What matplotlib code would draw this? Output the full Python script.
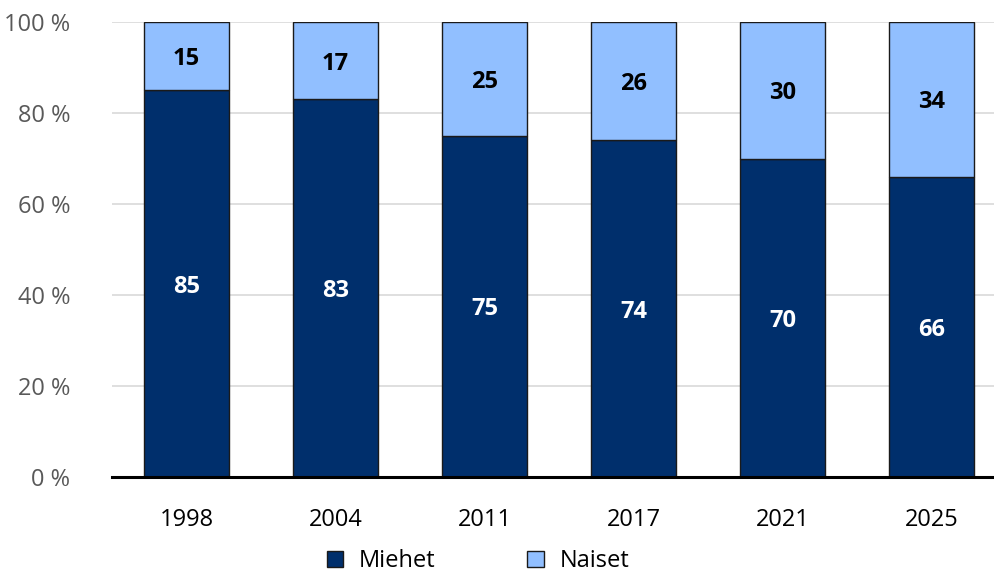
import numpy as np
import matplotlib
matplotlib.use("Agg")
import matplotlib.pyplot as plt

plt.rcParams['font.family'] = ['Open Sans', 'DejaVu Sans']

years = ['1998', '2004', '2011', '2017', '2021', '2025']
miehet = [85, 83, 75, 74, 70, 66]
naiset = [15, 17, 25, 26, 30, 34]

dark = '#002F6C'
light = '#91BFFF'

fig = plt.figure(figsize=(9.95, 5.76), dpi=100)
ax = fig.add_axes([112/995, 99/576, 894/995, 455/576])

x = np.arange(len(years))
w = 0.57
ax.bar(x, miehet, w, color=dark, edgecolor='#1a1a1a', linewidth=1, label='Miehet', zorder=3)
ax.bar(x, naiset, w, bottom=miehet, color=light, edgecolor='#1a1a1a', linewidth=1, label='Naiset', zorder=3)

for i in range(len(years)):
	ax.text(x[i], miehet[i] / 2, str(miehet[i]), ha='center', va='center_baseline',
		color='white', fontsize=17, fontweight='bold', zorder=4)
	ax.text(x[i], miehet[i] + naiset[i] / 2, str(naiset[i]), ha='center', va='center_baseline',
		color='black', fontsize=17, fontweight='bold', zorder=4)

ax.set_xlim(-0.5, 5.5)
ax.set_ylim(0, 100)
ax.set_yticks([0, 20, 40, 60, 80, 100])
ax.set_yticklabels([f'{v} %' for v in [0, 20, 40, 60, 80, 100]])
ax.set_xticks(x)
ax.set_xticklabels(years)
ax.tick_params(axis='y', length=0, labelsize=17, labelcolor='#595959', pad=30)
ax.tick_params(axis='x', length=0, labelsize=17, labelcolor='black', pad=22)
ax.grid(axis='y', color='#d9d9d9', linewidth=1.2, zorder=0)
for s in ['top', 'right', 'left']:
	ax.spines[s].set_visible(False)
ax.spines['bottom'].set_linewidth(2.2)
ax.spines['bottom'].set_color('black')
ax.spines['bottom'].set_zorder(5)

# legend below the axis, close to the bottom edge
fig.legend(loc='lower center', bbox_to_anchor=(478/995, -0.032), ncol=2, frameon=False,
	fontsize=17, handlelength=0.7, handleheight=0.7, columnspacing=3.9, handletextpad=0.65)

fig.savefig('out.png', dpi=100)
